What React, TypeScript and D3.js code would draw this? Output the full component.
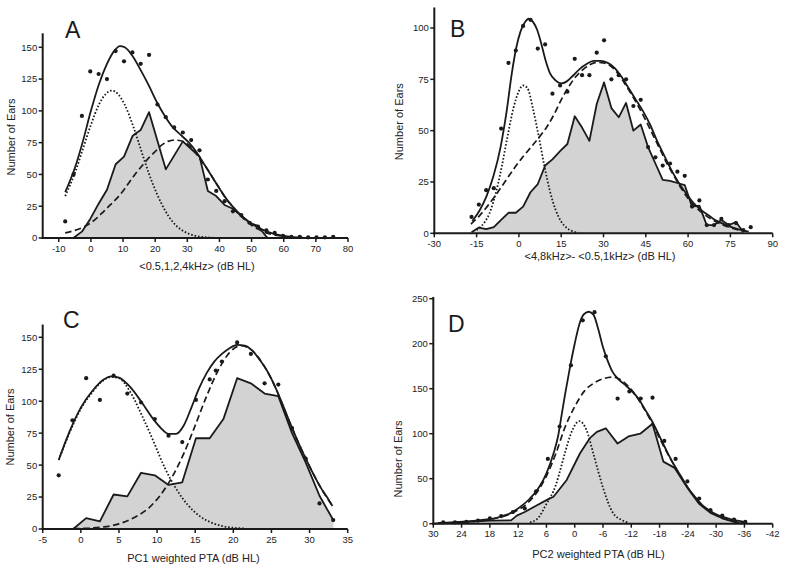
import React from "react";
import * as d3 from "d3";

type Pt = [number, number];

// ---------------- Panel A ----------------
const aXTicks = [-10, 0, 10, 20, 30, 40, 50, 60, 70, 80];
const aYTicks = [0, 25, 50, 75, 100, 125, 150];
const aDots: Pt[] = [
  [-8, 13], [-5.4, 50], [-2.8, 96], [-0.2, 131], [2.4, 129], [5, 125], [7.7, 147], [10.3, 139],
  [12.9, 146], [15.5, 137], [18.1, 144], [20.7, 105], [23.3, 95], [25.9, 87], [28.6, 83], [31.2, 77],
  [33.8, 69], [36.4, 46], [39, 37], [41.6, 29], [44.2, 21], [46.8, 18], [49.4, 12], [52, 9],
  [54.6, 6], [57.2, 4], [59.8, 1.6], [62.4, 1], [65, 1], [67.6, 0.5], [70.2, 0.5], [72.8, 0.5], [75.4, 1],
];
const aTotal: Pt[] = [
  [-8, 36], [-5, 55], [-2.5, 76], [0, 100], [2.5, 121], [5, 137], [7.5, 148], [9, 151], [10.5, 150],
  [13, 143], [15.5, 132], [18, 120], [20.5, 107], [23, 96], [25.5, 87], [28, 81], [30.5, 75], [33, 67],
  [35.5, 57], [38, 47], [40.5, 37], [43, 28], [45.5, 21], [48, 15], [50.5, 10.5], [53, 7], [55.5, 4.5],
  [58, 2.7], [60.5, 1.5], [63, 0.7], [66, 0.3],
];
const aDotted: Pt[] = [
  [-8, 33], [-5, 51], [-2.5, 70], [0, 89], [2.5, 105], [4.5, 113], [6.5, 116], [8.5, 113], [10.5, 105],
  [13, 89], [15.5, 70], [18, 51], [20.5, 35], [23, 22], [25.5, 12.5], [28, 6.7], [30.5, 3.3], [33, 1.5],
  [36, 0.5], [39, 0.1],
];
const aDashed: Pt[] = [
  [-8, 4], [-5, 6], [-2, 9], [0, 12], [2, 16], [4, 21], [6, 26], [8, 31], [10, 37], [12, 44], [14, 51],
  [16, 57], [18, 63], [20, 68], [22, 73], [24, 76], [26, 77], [28, 76.5], [30, 74], [32, 69], [34, 62],
  [36, 55], [38, 47], [40, 39], [42, 31], [44, 25], [46, 19], [48, 14], [50, 10], [52, 7], [54, 4.5],
  [56, 3], [58, 2], [60, 1.2], [63, 0.5],
];
const aHist: Pt[] = [
  [-5.5, 0], [-2.8, 5], [-0.2, 15], [2.4, 27], [5, 38], [7.7, 58], [10.3, 64], [12.9, 80], [13.8, 82],
  [15.5, 85], [18.1, 99], [23.3, 54], [28.6, 76], [31.2, 70], [33.8, 64], [36.4, 37], [39, 33],
  [41.6, 26], [44.2, 23], [46.8, 17.5], [49.4, 12], [52, 9.5], [54.6, 1], [55, 0],
];

// ---------------- Panel B ----------------
const bXTicks = [-30, -15, 0, 15, 30, 45, 60, 75, 90];
const bYTicks = [0, 25, 50, 75, 100];
const bDots: Pt[] = [
  [-16.8, 8], [-14.2, 14], [-11.6, 21], [-8.9, 22], [-6.3, 51], [-3.7, 83], [-1.1, 89], [1.5, 101],
  [4.1, 104], [6.7, 90], [9.3, 92], [11.9, 68], [14.6, 72], [17.2, 69], [19.8, 85], [22.4, 77],
  [25, 77], [27.6, 88], [30.2, 94], [32.8, 75], [35.4, 77], [38, 75], [40.6, 62], [43.2, 65],
  [45.8, 42], [48.4, 37], [51, 33], [53.6, 34], [56.2, 30], [58.8, 28], [61.4, 13], [64, 16],
  [66.6, 4], [69.2, 4], [71.8, 7], [74.4, 4], [77, 5], [79.6, 1.5], [82.2, 3],
];
const bTotal: Pt[] = [
  [-16.5, 6], [-14, 11], [-11.5, 18], [-9, 28], [-6.5, 42], [-4.5, 58], [-2.5, 78], [-1, 90],
  [0.5, 98], [2, 102.5], [3.5, 104.5], [5, 103], [6.5, 99], [8, 92], [9.5, 84], [11, 78], [13, 74.5],
  [15, 73], [17, 74], [19, 76.5], [21.5, 80], [24, 82.5], [26.5, 84], [29, 84], [31.5, 83], [34, 80.5],
  [36.5, 76], [39, 70.5], [41.5, 65], [44, 59.5], [46.5, 53], [49, 45], [51.5, 38], [54, 31],
  [56.5, 25], [59, 20], [61.5, 15.5], [64, 12], [66.5, 9.5], [69, 7], [71.5, 5.2], [74, 3.7],
  [76.5, 2.5], [79, 1.5], [81.5, 0.8],
];
const bDotted: Pt[] = [
  [-15, 1.6], [-13.5, 3.2], [-12, 5.7], [-10.5, 9.5], [-9, 15.6], [-7.5, 23.5], [-6, 33], [-4, 47.4],
  [-2, 60.6], [0, 69.3], [1.5, 72], [3, 70.8], [5, 60.6], [7, 47.4], [9, 33], [11, 20.6], [13, 11.5],
  [15, 5.7], [17, 2.6], [19, 1], [21, 0.3],
];
const bDashed: Pt[] = [
  [-17, 4.5], [-14, 8.5], [-11, 13.5], [-8, 19], [-5, 25], [-2, 31], [1, 36.5], [4, 41.5], [7, 46.5],
  [10, 52], [12.5, 58], [15, 65], [17.5, 71], [20, 76], [22.5, 79.5], [25, 82], [27.5, 83.3], [30, 83],
  [32.5, 81.5], [35, 78], [37.5, 73], [40, 67.5], [42.5, 61.5], [45, 55], [47.5, 48], [50, 41],
  [52.5, 34], [55, 28], [57.5, 22], [60, 17], [62.5, 13], [65, 10], [67.5, 7.5], [70, 5.5], [72.5, 4],
  [75, 2.8], [77.5, 1.8], [80, 1],
];
const bHist: Pt[] = [
  [-16.8, 0.5], [-14.2, 2.8], [-11.6, 2], [-8.9, 3], [-6.3, 6.5], [-3.7, 10], [-1.1, 10], [1.5, 13],
  [4.1, 20], [6.7, 24], [9.3, 33], [11.9, 36], [14.6, 40], [17.2, 43.5], [19.8, 57], [22.4, 51.5],
  [25, 45], [27.6, 63], [30.2, 73.5], [32.8, 61], [35.4, 56.5], [38, 63.5], [40.6, 50], [43.2, 53],
  [45.8, 42], [48.4, 34], [51, 26], [53.6, 25.5], [56.2, 24.5], [58.8, 23.5], [61.4, 13], [64, 13.5],
  [66.6, 4], [69.2, 4], [71.8, 6.5], [74.4, 4], [77, 5.5], [79.6, 0.5],
];

// ---------------- Panel C ----------------
const cXTicks = [-5, 0, 5, 10, 15, 20, 25, 30, 35];
const cYTicks = [0, 25, 50, 75, 100, 125, 150];
const cDots: Pt[] = [
  [-2.9, 42], [-1.1, 85], [0.7, 118], [2.5, 101], [4.3, 120], [6.1, 106], [7.9, 99], [9.7, 86],
  [11.5, 73], [13.3, 68], [15.1, 101], [16.9, 117], [17.7, 124], [18.5, 131], [20.5, 146], [22.3, 137],
  [24.1, 114], [25.9, 113], [27.7, 79], [29.5, 55], [31.3, 20], [33.1, 7],
];
const cTotal: Pt[] = [
  [-2.9, 54], [-1.5, 76], [0, 95], [1.5, 108], [3, 117], [4, 119.5], [5, 118.5], [6.5, 111], [8, 99],
  [9.5, 86], [10.5, 79], [11.5, 74.5], [12.5, 74.5], [13.5, 81], [14.5, 95], [15.5, 110], [16.5, 122],
  [17.5, 131], [18.5, 137], [19.5, 141.5], [20.5, 144], [21.5, 143.5], [22.5, 139.5], [23.5, 132],
  [24.5, 123], [25.5, 111], [26.5, 97], [27.5, 82], [28.5, 68], [29.5, 55], [30.5, 43], [31.5, 32],
  [32.5, 23], [33, 18],
];
const cDotted: Pt[] = [
  [-2.9, 54], [-1.5, 75], [0, 94], [1.5, 107], [3, 116.5], [4, 119], [5, 118], [6.5, 107], [8, 89],
  [9.5, 69], [11, 48], [12.5, 31.5], [14, 19], [15.5, 10.5], [17, 5.3], [18.5, 2.4], [20, 1], [21.5, 0.4],
];
const cDashed: Pt[] = [
  [-1, 0.3], [1, 0.6], [3, 1.6], [5, 4], [7, 9], [9, 17], [10.5, 27], [12, 41], [13.5, 59], [15, 81],
  [16.5, 104], [18, 124], [19.5, 138], [21, 143.5], [22.5, 139.5], [24, 128], [25.5, 111], [27, 89],
  [28.5, 68], [30, 49], [31.5, 32], [33, 18],
];
const cHist: Pt[] = [
  [-1, 0], [0.7, 8.5], [2.5, 6], [4.3, 27], [6.1, 25.5], [7.9, 44], [9.7, 42], [11.5, 34.5],
  [13.3, 36.5], [15.1, 71], [16.9, 71], [18.7, 86], [20.5, 118], [22.3, 114], [24.1, 106],
  [25.9, 104], [27.7, 75], [29.5, 52], [31.3, 26], [33.1, 7],
];

// ---------------- Panel D ----------------
const dXTicks = [30, 24, 18, 12, 6, 0, -6, -12, -18, -24, -30, -36, -42];
const dYTicks = [0, 50, 100, 150, 200, 250];
const dDots: Pt[] = [
  [27.9, 1.5], [25.4, 1.5], [23, 2], [20.5, 3.5], [18, 6], [15.6, 8.5], [13.1, 13], [10.6, 17],
  [8.2, 36], [5.7, 72], [3.2, 108], [0.8, 176], [-1.7, 226], [-4.2, 235], [-6.6, 186], [-9.1, 139],
  [-11.6, 147], [-14, 139], [-16.5, 140], [-19, 92], [-21.4, 72], [-23.9, 47], [-26.4, 28],
  [-28.8, 15], [-31.3, 9], [-33.8, 4.5], [-36.2, 2],
];
const dTotal: Pt[] = [
  [29, 1], [26, 1.5], [23, 2.5], [20, 4], [17, 6], [15.8, 7.8], [13.5, 12], [11.5, 19], [9.5, 28],
  [7.5, 41], [6, 56], [4.5, 78], [3.5, 98], [2.8, 120], [2, 145], [1, 174], [0, 200], [-1, 222],
  [-2, 233], [-3, 235.5], [-4, 232], [-5, 216], [-6, 196], [-7, 181], [-8, 169], [-9, 162],
  [-10.5, 155], [-12, 148], [-13.5, 139], [-15, 126], [-16.5, 113], [-18, 97], [-19.5, 81], [-21, 66],
  [-22.5, 53], [-24, 40], [-25.5, 30], [-27, 21], [-28.5, 15], [-30, 10.5], [-31.5, 7.5], [-33, 5.2],
  [-34.5, 3.3], [-36, 2],
];
const dDotted: Pt[] = [
  [9.5, 1.5], [8, 5], [6, 22], [4, 43], [3, 61], [2, 80], [0.5, 104], [-1, 114], [-2.5, 104],
  [-4, 77], [-5, 58], [-6, 40], [-8, 13], [-10, 4], [-11.5, 1.2],
];
const dDashed: Pt[] = [
  [28, 0.8], [25, 1.3], [22, 2.2], [19, 3.8], [16, 7], [13, 12.5], [10, 23], [8, 35], [6, 53],
  [4, 78], [2, 108], [0, 130], [-2, 147], [-4, 156], [-6, 161], [-8, 163], [-10, 159], [-12, 149],
  [-14, 134], [-16, 116], [-18, 95], [-20, 75], [-22, 57], [-24, 40], [-26, 26], [-28, 16.5],
  [-30, 9.5], [-32, 5], [-34, 2.5], [-36, 1],
];
const dHist: Pt[] = [
  [30, 0], [27, 1], [24, 1.5], [21, 2.5], [18, 3.5], [13.5, 3.7], [12.3, 9], [10.6, 13], [8.2, 20],
  [5.7, 27], [4.5, 30], [1.7, 48.6], [-1.1, 78], [-3.2, 95], [-4.7, 102], [-6.6, 106], [-9.1, 89],
  [-11.4, 97], [-13.9, 100], [-16.5, 111], [-18.8, 69], [-21.2, 62], [-23.9, 40], [-26.4, 22],
  [-28.8, 12], [-31.3, 6], [-33.8, 2], [-35.5, 0],
];

const FONT = "'Liberation Sans', Arial, Helvetica, sans-serif";
const INK = "#1a1a1a";

interface Spec {
  letter: string;
  letterPos: [number, number];
  xDomain: [number, number];
  xRange: [number, number];
  yRef: [number, number];
  yRefPx: [number, number];
  yMax: number;
  xTicks: number[];
  yTicks: number[];
  xTitle: string;
  xTitlePos: [number, number];
  yTitlePos: [number, number];
  dots: Pt[];
  total: Pt[];
  dotted: Pt[];
  dashed: Pt[];
  hist: Pt[];
}

const specs: Spec[] = [
  {
    letter: "A", letterPos: [65, 38],
    xDomain: [-15, 80], xRange: [42.7, 348],
    yRef: [0, 150], yRefPx: [238, 47.3], yMax: 161,
    xTicks: aXTicks, yTicks: aYTicks,
    xTitle: "<0.5,1,2,4kHz> (dB HL)", xTitlePos: [197, 269.5], yTitlePos: [11, 137],
    dots: aDots, total: aTotal, dotted: aDotted, dashed: aDashed, hist: aHist,
  },
  {
    letter: "B", letterPos: [450, 36.7],
    xDomain: [-30, 90], xRange: [434.3, 772.7],
    yRef: [0, 100], yRefPx: [233.3, 28], yMax: 110,
    xTicks: bXTicks, yTicks: bYTicks,
    xTitle: "<4,8kHz>- <0.5,1kHz> (dB HL)", xTitlePos: [600, 259.5], yTitlePos: [398.5, 121.7],
    dots: bDots, total: bTotal, dotted: bDotted, dashed: bDashed, hist: bHist,
  },
  {
    letter: "C", letterPos: [63, 328],
    xDomain: [-5, 35], xRange: [42.7, 347.7],
    yRef: [0, 150], yRefPx: [529, 337.3], yMax: 160,
    xTicks: cXTicks, yTicks: cYTicks,
    xTitle: "PC1 weighted PTA (dB HL)", xTitlePos: [193.5, 562], yTitlePos: [10, 427],
    dots: cDots, total: cTotal, dotted: cDotted, dashed: cDashed, hist: cHist,
  },
  {
    letter: "D", letterPos: [448, 332],
    xDomain: [30, -42], xRange: [433.3, 772.7],
    yRef: [0, 250], yRefPx: [523.7, 298.7], yMax: 252,
    xTicks: dXTicks, yTicks: dYTicks,
    xTitle: "PC2 weighted PTA (dB HL)", xTitlePos: [598.5, 557.5], yTitlePos: [398, 459],
    dots: dDots, total: dTotal, dotted: dDotted, dashed: dDashed, hist: dHist,
  },
];

function Panel({ s }: { s: Spec }) {
  const x = d3.scaleLinear().domain(s.xDomain).range(s.xRange);
  const y = d3.scaleLinear().domain(s.yRef).range(s.yRefPx);
  const y0 = y(0);
  const yTop = y(s.yMax);
  const [xl, xr] = s.xRange;

  const byPx = (pts: Pt[]) => [...pts].sort((p, q) => x(p[0]) - x(q[0]));
  const smooth = d3.line<Pt>().x((d) => x(d[0])).y((d) => y(d[1])).curve(d3.curveMonotoneX);
  const straight = d3.line<Pt>().x((d) => x(d[0])).y((d) => y(d[1]));
  const area = d3.area<Pt>().x((d) => x(d[0])).y0(y0).y1((d) => y(d[1]));

  const hist = byPx(s.hist);

  return (
    <g>
      <path d={area(hist) || ""} fill="#d3d3d3" stroke="none" />
      <path d={straight(hist) || ""} fill="none" stroke={INK} strokeWidth={1.8} strokeLinejoin="round" />
      <path d={smooth(byPx(s.dotted)) || ""} fill="none" stroke={INK} strokeWidth={1.8} strokeDasharray="1.6,1.9" />
      <path d={smooth(byPx(s.dashed)) || ""} fill="none" stroke={INK} strokeWidth={1.7} strokeDasharray="6.5,3.5" />
      <path d={smooth(byPx(s.total)) || ""} fill="none" stroke={INK} strokeWidth={1.8} />
      {s.dots.map((d, i) => (
        <circle key={i} cx={x(d[0])} cy={y(d[1])} r={2.1} fill={INK} />
      ))}

      {/* axes */}
      <line x1={xl} x2={xl} y1={y0 + 1} y2={yTop} stroke={INK} strokeWidth={2} />
      <line x1={xl - 1} x2={xr} y1={y0} y2={y0} stroke={INK} strokeWidth={2} />
      {s.yTicks.map((t) => (
        <g key={"y" + t}>
          <line x1={xl - 4} x2={xl} y1={y(t)} y2={y(t)} stroke={INK} strokeWidth={1.5} />
          <text x={xl - 5.5} y={y(t) + 3.4} textAnchor="end" fontSize={9.5} fontFamily={FONT} fill="#222">
            {t}
          </text>
        </g>
      ))}
      {s.xTicks.map((t) => (
        <g key={"x" + t}>
          <line x1={x(t)} x2={x(t)} y1={y0} y2={y0 + 4} stroke={INK} strokeWidth={1.5} />
          <text x={x(t)} y={y0 + 13.5} textAnchor="middle" fontSize={9.5} fontFamily={FONT} fill="#222">
            {String(t)}
          </text>
        </g>
      ))}
      <text x={s.xTitlePos[0]} y={s.xTitlePos[1]} textAnchor="middle" fontSize={11} fontFamily={FONT} fill="#222">
        {s.xTitle}
      </text>
      <text
        transform={`translate(${s.yTitlePos[0]},${s.yTitlePos[1]}) rotate(-90)`}
        textAnchor="middle"
        dominantBaseline="central"
        fontSize={11}
        fontFamily={FONT}
        fill="#222"
      >
        Number of Ears
      </text>
      <text x={s.letterPos[0]} y={s.letterPos[1]} fontSize={23} fontFamily={FONT} fill={INK}>
        {s.letter}
      </text>
    </g>
  );
}

export default function App() {
  return (
    <svg
      width={785}
      height={566}
      viewBox="0 0 785 566"
      style={{ position: "absolute", left: 0, top: 0, background: "#fff" }}
    >
      <rect x={0} y={0} width={785} height={566} fill="#fff" />
      {specs.map((s) => (
        <Panel key={s.letter} s={s} />
      ))}
    </svg>
  );
}
